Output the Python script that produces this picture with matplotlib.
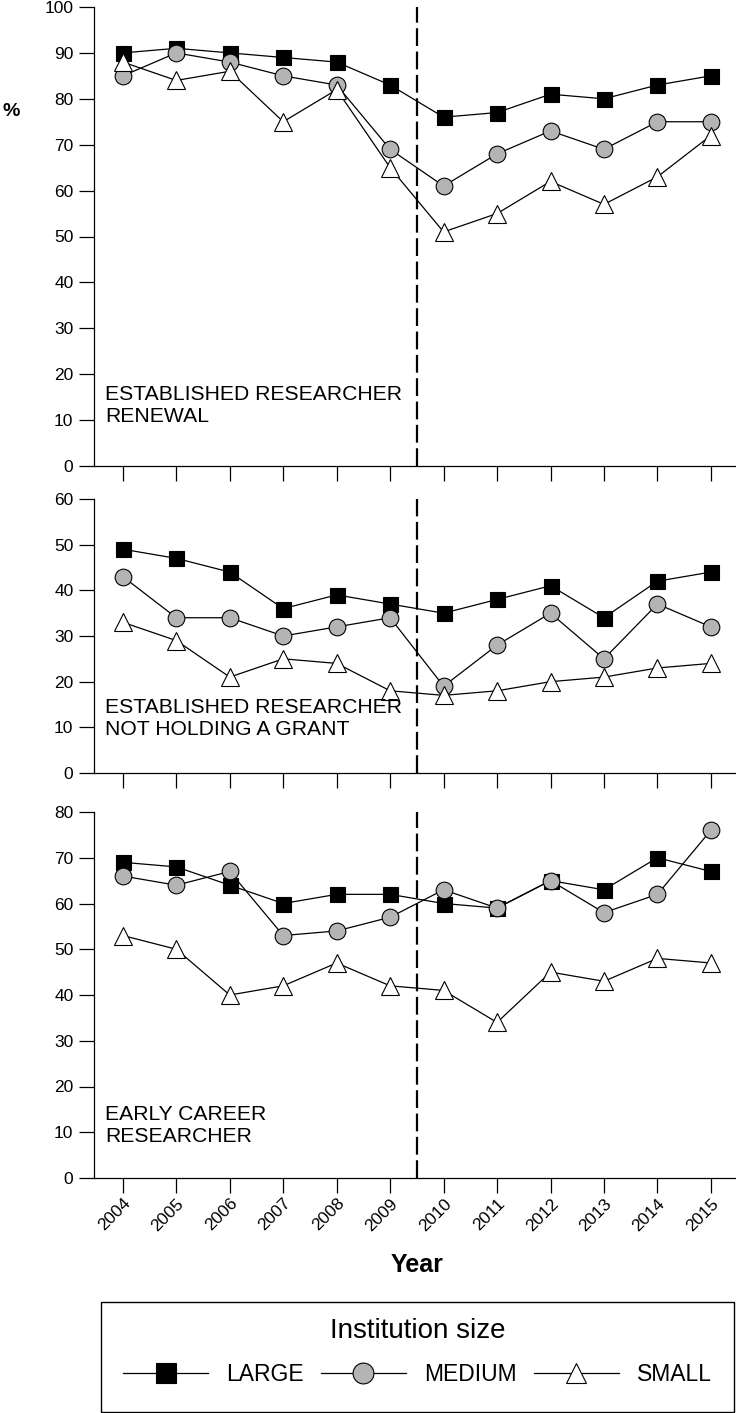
import matplotlib
matplotlib.use('Agg')
import matplotlib.pyplot as plt
from matplotlib.lines import Line2D
from matplotlib.patches import Rectangle

plt.rcParams['font.family'] = ['Liberation Sans', 'DejaVu Sans']

# Data
years = [2004, 2005, 2006, 2007, 2008, 2009, 2010, 2011, 2012, 2013, 2014, 2015]
panel_labels = ['ESTABLISHED RESEARCHER\nRENEWAL',
                'ESTABLISHED RESEARCHER\nNOT HOLDING A GRANT',
                'EARLY CAREER\nRESEARCHER']
y_tops = [100, 60, 80]

renewal_large = [90, 91, 90, 89, 88, 83, 76, 77, 81, 80, 83, 85]
renewal_medium = [85, 90, 88, 85, 83, 69, 61, 68, 73, 69, 75, 75]
renewal_small = [88, 84, 86, 75, 82, 65, 51, 55, 62, 57, 63, 72]

nogrant_large = [49, 47, 44, 36, 39, 37, 35, 38, 41, 34, 42, 44]
nogrant_medium = [43, 34, 34, 30, 32, 34, 19, 28, 35, 25, 37, 32]
nogrant_small = [33, 29, 21, 25, 24, 18, 17, 18, 20, 21, 23, 24]

early_large = [69, 68, 64, 60, 62, 62, 60, 59, 65, 63, 70, 67]
early_medium = [66, 64, 67, 53, 54, 57, 63, 59, 65, 58, 62, 76]
early_small = [53, 50, 40, 42, 47, 42, 41, 34, 45, 43, 48, 47]

panels = [
    (renewal_large, renewal_medium, renewal_small),
    (nogrant_large, nogrant_medium, nogrant_small),
    (early_large, early_medium, early_small),
]

series_names = ['LARGE', 'MEDIUM', 'SMALL']
gray = '#b4b4b4'

W, H = 736, 1413
fig = plt.figure(figsize=(W / 100, H / 100), dpi=100)

# axes boxes in pixels: (top, bottom)
boxes = [(7, 466), (499, 773), (812, 1178)]
label_frac = [0.096, 0.139, 0.098]
left_px = 94

for i, (top, bot) in enumerate(boxes):
    ax = fig.add_axes([left_px / W, (H - bot) / H, (W - left_px) / W, (bot - top) / H])
    large, medium, small = panels[i]
    ax.plot(years, large, color='black', lw=0.9, marker='s', ms=10.8,
            mfc='black', mec='black', mew=0.8)
    ax.plot(years, medium, color='black', lw=0.9, marker='o', ms=12,
            mfc=gray, mec='black', mew=0.8)
    ax.plot(years, small, color='black', lw=0.9, marker='^', ms=12.5,
            mfc='white', mec='black', mew=0.8)

    ax.set_xlim(2003.46, 2015.47)
    ax.set_ylim(0, y_tops[i])
    ax.set_yticks(range(0, y_tops[i] + 1, 10))
    ax.set_xticks(years)
    for s in ['top', 'right']:
        ax.spines[s].set_visible(False)
    for s in ['left', 'bottom']:
        ax.spines[s].set_linewidth(0.9)
    ax.tick_params(axis='both', length=10.8, width=0.9, labelsize=12.5)
    ax.tick_params(axis='y', pad=4)
    ax.tick_params(axis='x', pad=2)

    # split between the two periods
    ax.axvline(2009.5, color='black', lw=1.6, ls=(0, (8, 2.5)), zorder=1)

    ax.text(0.0171, label_frac[i], panel_labels[i], transform=ax.transAxes,
            ha='left', va='baseline', fontsize=15.2, linespacing=1.2)

    if i < 2:
        ax.set_xticklabels([])
    else:
        ax.set_xticklabels([str(y) for y in years], rotation=45,
                           ha='right', rotation_mode='anchor')

fig.text(11.5 / W, (H - 112) / H, '%', ha='center', va='center',
         fontsize=14, fontweight='bold')
fig.text(417.5 / W, (H - 1272) / H, 'Year', ha='center', va='baseline',
         fontsize=18, fontweight='bold')

# legend box
fig.patches.append(Rectangle((101 / W, 1.5 / H), 633 / W, 110 / H,
                             transform=fig.transFigure, fill=False,
                             lw=1.0, ec='black'))
handles = [
    Line2D([], [], color='black', lw=0.9, marker='s', ms=14.5,
           mfc='black', mec='black', mew=0.8),
    Line2D([], [], color='black', lw=0.9, marker='o', ms=15,
           mfc=gray, mec='black', mew=0.8),
    Line2D([], [], color='black', lw=0.9, marker='^', ms=15,
           mfc='white', mec='black', mew=0.8),
]
fig.legend(handles, series_names, loc='center',
           bbox_to_anchor=(417.5 / W, (H - 1352) / H), ncol=3,
           frameon=False, fontsize=16.5, title='Institution size',
           title_fontsize=20, handlelength=3.7, handletextpad=0.79,
           columnspacing=0.75, labelspacing=0.8, borderpad=0)

fig.savefig('out.png', dpi=100)
